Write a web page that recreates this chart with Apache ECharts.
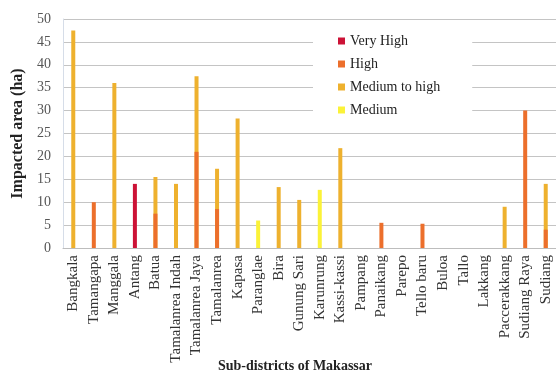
<!DOCTYPE html>
<html>
<head>
<meta charset="utf-8">
<script src="https://cdn.jsdelivr.net/npm/echarts@6/dist/echarts.min.js"></script>
<style>
  html, body { margin: 0; padding: 0; background: #fff; }
  #chart { width: 556px; height: 376px; }
</style>
</head>
<body>
<div id="chart"></div>
<script>
// sub-districts (last one is cut off at the right edge in the source figure)
var districts = ["Bangkala", "Tamangapa", "Manggala", "Antang", "Batua", "Tamalanrea Indah",
  "Tamalanrea Jaya", "Tamalanrea", "Kapasa", "Paranglae", "Bira", "Gunung Sari", "Karunrung",
  "Kassi-kassi", "Pampang", "Panaikang", "Parepo", "Tello baru", "Buloa", "Tallo", "Lakkang",
  "Paccerakkang", "Sudiang Raya", "Sudiang"];

// impacted area (ha) per class
var veryHigh = [null, null, null, 14, null, null, null, null, null, null, null, null, null,
  null, null, null, null, null, null, null, null, null, null, null];
var high = [null, 10, null, null, 7.5, null, 21, 8.5, null, null, null, null, null,
  null, null, 5.5, null, 5.3, null, null, null, null, 30, 4];
var mediumHigh = [47.5, null, 36, null, 15.5, 14, 37.5, 17.3, 28.3, null, 13.3, 10.5, null,
  21.8, null, null, null, null, null, null, null, 9, null, 14];
var medium = [null, null, null, null, null, null, null, null, null, 6, null, null, 12.7,
  null, null, null, null, null, null, null, null, null, null, null];

var yTicks = [0, 5, 10, 15, 20, 25, 30, 35, 40, 45, 50];

var serif = "Liberation Serif";

var chart = echarts.init(document.getElementById("chart"));

var mkBar = function(name, data, color, z){
  return {
    name: name,
    type: "bar",
    data: data,
    barWidth: 4,
    barGap: "-100%",
    z: z,
    itemStyle: { color: color }
  };
};

chart.setOption({
  animation: false,
  backgroundColor: "#fff",
  textStyle: { fontFamily: serif },
  grid: { left: 63, right: -11, top: 19, bottom: 128 },
  legend: {
    orient: "vertical",
    left: 313,
    top: 28,
    padding: [5, 32, 5, 25],
    backgroundColor: "#fff",
    itemWidth: 7,
    itemHeight: 7,
    itemGap: 7,
    icon: "rect",
    textStyle: { fontFamily: serif, fontSize: 14, color: "#222", lineHeight: 16 },
    data: ["Very High", "High", "Medium to high", "Medium"]
  },
  xAxis: {
    type: "category",
    data: districts,
    axisTick: { show: false },
    axisLine: { lineStyle: { color: "#bdbdbd" } },
    axisLabel: {
      rotate: 90,
      interval: 0,
      margin: 7,
      fontFamily: serif,
      fontSize: 15,
      color: "#333"
    }
  },
  yAxis: {
    type: "value",
    min: 0,
    max: 50,
    interval: 5,
    name: "Impacted area (ha)",
    nameLocation: "middle",
    nameGap: 37,
    nameTextStyle: { fontFamily: serif, fontSize: 16, fontWeight: "bold", color: "#222" },
    axisLine: { show: true, lineStyle: { color: "#d6dde8" } },
    axisLabel: {
      margin: 12,
      fontFamily: serif,
      fontSize: 14,
      color: "#555",
      formatter: function(v){ return yTicks.indexOf(v) >= 0 ? String(v) : ""; }
    },
    splitLine: { lineStyle: { color: "#c4c4c4" } }
  },
  graphic: [{
    type: "text",
    left: 218,
    top: 359,
    z: 100,
    style: {
      text: "Sub-districts of Makassar",
      font: "bold 14px " + serif,
      fill: "#222",
      backgroundColor: "#fff"
    }
  }],
  series: [
    mkBar("Very High", veryHigh, "#cc1236", 4),
    mkBar("High", high, "#ec6f2c", 3),
    mkBar("Medium to high", mediumHigh, "#eeb12e", 2),
    mkBar("Medium", medium, "#fbf238", 2)
  ]
});
</script>
</body>
</html>
